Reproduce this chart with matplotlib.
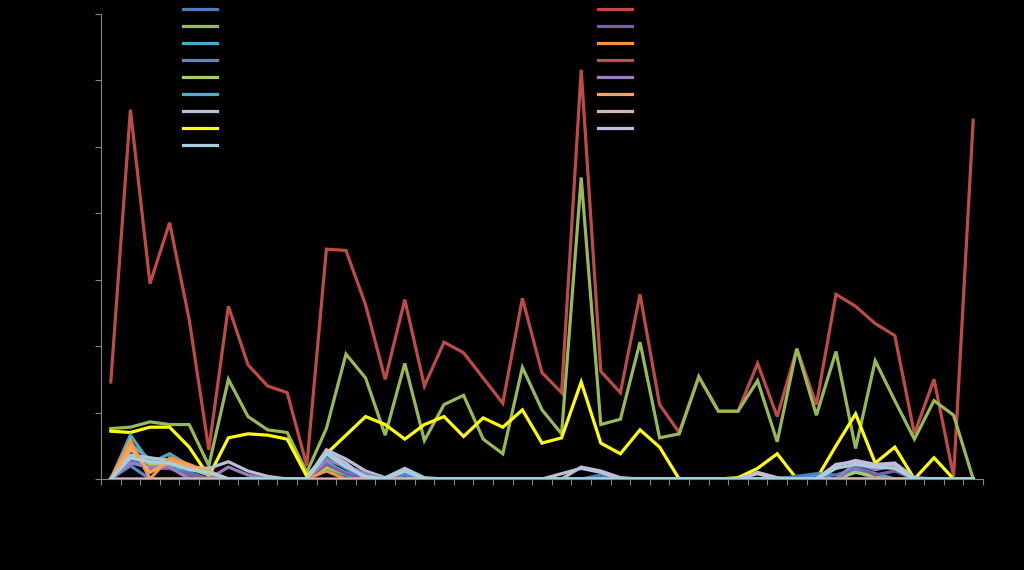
import numpy as np
import matplotlib
matplotlib.use("Agg")
import matplotlib.pyplot as plt

categories = [str(i + 1) for i in range(45)]

red_main = [7.3, 27.8, 14.7, 19.3, 12.0, 2.2, 13.0, 8.6, 7.0, 6.5, 1.0, 17.3, 17.2, 13.1, 7.5,
            13.5, 7.0, 10.3, 9.5, 7.6, 5.7, 13.6, 8.0, 6.5, 30.8, 8.1, 6.5, 13.9, 5.6, 3.5,
            7.7, 5.1, 5.1, 8.7, 4.7, 9.8, 5.6, 13.9, 13.0, 11.7, 10.8, 3.4, 7.5, 0.2, 27.0]
green_main = [3.8, 3.9, 4.3, 4.1, 4.1, 1.0, 7.5, 4.7, 3.7, 3.5, 0.5, 3.8, 9.4, 7.6, 3.3,
              8.7, 2.9, 5.6, 6.3, 3.0, 1.9, 8.4, 5.2, 3.4, 22.7, 4.1, 4.5, 10.3, 3.1, 3.4,
              7.7, 5.1, 5.1, 7.4, 2.8, 9.8, 4.8, 9.6, 2.3, 8.9, 5.9, 3.0, 5.9, 4.8, 0.0]
yellow = [3.6, 3.5, 3.9, 3.9, 2.4, 0.2, 3.1, 3.4, 3.3, 3.0, 0.2, 1.9, 3.3, 4.7, 4.1,
          3.0, 4.1, 4.7, 3.2, 4.6, 3.9, 5.2, 2.7, 3.1, 7.3, 2.7, 1.9, 3.7, 2.4, 0.0,
          0.0, 0.0, 0.1, 0.8, 1.9, 0.0, 0.0, 2.5, 4.9, 1.2, 2.4, 0.0, 1.6, 0.0, 0.0]

def sparse(points):
    vals = [0.0] * 45
    for i, v in points.items():
        vals[i] = v
    return vals

steel_blue = sparse({1: 1.5, 2: 1.0, 3: 1.0, 4: 0.5, 11: 1.6, 12: 0.8, 15: 0.5, 25: 0.3,
                     35: 0.2, 36: 0.4, 37: 0.3, 38: 0.8})
teal_a = sparse({1: 3.3, 2: 1.2, 3: 1.9, 4: 1.0, 5: 0.3, 11: 0.8, 12: 0.3})
blue_b = sparse({1: 1.0, 11: 1.2, 12: 0.5, 15: 0.3, 36: 0.3, 38: 0.6})
light_green = sparse({1: 2.2, 2: 1.1, 3: 1.1, 4: 0.8, 5: 0.3, 11: 0.9, 12: 0.4, 38: 0.5, 39: 0.2})
teal_b = sparse({1: 2.6, 2: 1.5, 3: 1.4, 11: 1.3, 12: 0.4, 38: 0.9, 39: 0.4})
lavender_a = sparse({1: 1.8, 2: 1.6, 3: 1.4, 4: 0.9, 5: 0.8, 6: 1.3, 7: 0.6, 8: 0.2, 11: 2.2,
                     12: 1.5, 13: 0.6, 14: 0.1, 15: 0.8, 16: 0.1, 24: 0.9, 25: 0.6, 26: 0.1,
                     33: 0.5, 34: 0.1, 37: 1.0, 38: 1.4, 39: 1.1, 40: 1.2, 41: 0.1})
light_blue = sparse({1: 1.6, 2: 1.3, 3: 1.2, 4: 0.7, 5: 0.5, 11: 1.9, 12: 0.9, 13: 0.2, 15: 0.6,
                     37: 0.8, 38: 1.1, 39: 0.9, 40: 0.8})
purple_a = sparse({1: 1.3, 2: 0.8, 3: 0.8, 4: 0.3, 11: 1.1, 12: 0.4, 38: 1.0, 39: 0.3, 40: 0.6})
orange_a = sparse({1: 2.9, 2: 0.0, 3: 1.6, 4: 1.1, 5: 0.5, 11: 0.6})
red_b = sparse({})
purple_b = sparse({1: 1.2, 2: 0.9, 3: 0.9, 6: 0.9, 7: 0.3, 11: 1.4, 12: 1.0, 13: 0.4, 38: 1.2,
                   39: 0.7, 40: 1.0})
orange_b = sparse({1: 2.4, 2: 0.5, 3: 1.3, 4: 1.0, 5: 0.6})
pink = sparse({})
lavender_b = sparse({11: 2.0, 12: 1.2, 23: 0.4, 24: 0.8, 25: 0.5, 33: 0.4, 37: 1.1, 38: 1.3,
                     39: 1.0, 40: 1.1})

left_names = ["Series 1", "Series 2", "Series 3", "Series 4", "Series 5",
              "Series 6", "Series 7", "Series 8", "Series 9"]
right_names = ["Series 10", "Series 11", "Series 12", "Series 13",
               "Series 14", "Series 15", "Series 16", "Series 17"]

left_series = [steel_blue, green_main, teal_a, blue_b, light_green, teal_b, lavender_a, yellow, light_blue]
left_colors = ["#4A7EBB", "#98B954", "#46AAC5", "#5587CC", "#ABCB6A", "#4FB0C8", "#B9C1D9", "#FFFF00", "#A6D0DD"]
left_z = [6, 4, 6, 6, 6, 6, 6, 5, 8]

right_series = [red_main, purple_a, orange_a, red_b, purple_b, orange_b, pink, lavender_b]
right_colors = ["#BE4B48", "#7D60A0", "#F59440", "#C0504D", "#9A7FC0", "#F8A35E", "#D6B6B5", "#C4BCDC"]
right_z = [3, 6, 6, 7, 6, 6, 7, 6]

fig = plt.figure(figsize=(10.24, 5.7), dpi=100, facecolor="black")
ax = fig.add_axes([101 / 1024, 1 - 479 / 570, 882 / 1024, 465 / 570])
ax.set_facecolor("black")

x = np.arange(len(categories))
left_handles = []
for vals, c, z, n in zip(left_series, left_colors, left_z, left_names):
    h, = ax.plot(x, vals, color=c, lw=2.3, zorder=z, label=n, solid_joinstyle="miter")
    left_handles.append(h)
right_handles = []
for vals, c, z, n in zip(right_series, right_colors, right_z, right_names):
    h, = ax.plot(x, vals, color=c, lw=2.3, zorder=z, label=n, solid_joinstyle="miter")
    right_handles.append(h)

ax.set_xlim(-0.5, len(categories) - 0.5)
ax.set_ylim(0, 35)
ax.set_yticks(np.arange(0, 36, 5))
ax.set_xticks(np.arange(-0.5, len(categories), 1.0))
ax.set_xticklabels([])
ax.set_xticks(x, minor=True)
ax.set_xticklabels(categories, minor=True, rotation=90, color="black", fontsize=8)
ax.tick_params(axis="x", which="minor", length=0)
ax.tick_params(axis="x", which="major", length=4, color="#868686", direction="out")
ax.tick_params(axis="y", length=4, color="#868686", direction="out", labelcolor="black", labelsize=9)

for s in ["top", "right"]:
    ax.spines[s].set_visible(False)
for s in ["left", "bottom"]:
    ax.spines[s].set_color("#868686")
    ax.spines[s].set_linewidth(0.8)

leg1 = fig.legend(handles=left_handles, loc="upper left", bbox_to_anchor=(183 / 1024, 1 - 3 / 570),
                  frameon=False, fontsize=9, labelcolor="black", handlelength=2.75,
                  labelspacing=0.32, borderpad=0, borderaxespad=0)
leg2 = fig.legend(handles=right_handles, loc="upper left", bbox_to_anchor=(598 / 1024, 1 - 3 / 570),
                  frameon=False, fontsize=9, labelcolor="black", handlelength=2.75,
                  labelspacing=0.32, borderpad=0, borderaxespad=0)

fig.savefig("out.png", dpi=100, facecolor="black")
